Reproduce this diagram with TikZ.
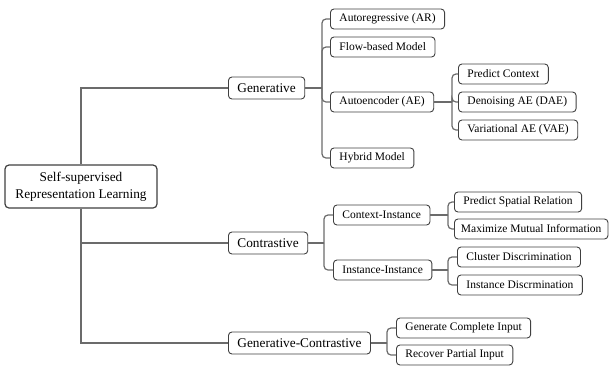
\documentclass[tikz,border=0pt]{standalone}
\usepackage{fontspec}
\setmainfont{Liberation Serif}
\usepackage{xcolor}
\usepackage{tikz}
\usetikzlibrary{positioning}

\definecolor{linegray}{HTML}{6B6B6B}
\definecolor{boxgray}{HTML}{404040}

\begin{document}
\begin{tikzpicture}[
    x=1pt, y=-1pt,
    every node/.style={font=\fontsize{11.5}{15}\selectfont},
    box/.style={draw=boxgray, line width=0.9pt, rounded corners=3.5pt, fill=white, minimum height=20pt, inner xsep=9pt, inner ysep=2pt, anchor=west},
    mainbox/.style={box, font=\fontsize{13.3}{16}\selectfont, minimum height=22pt},
    rootbox/.style={draw=boxgray, line width=1.2pt, rounded corners=4pt, fill=white, minimum width=152pt, minimum height=43pt, align=center, font=\fontsize{13.3}{17}\selectfont},
    trunk/.style={draw=linegray, line width=1.8pt},
    branch/.style={draw=linegray, line width=1.2pt, rounded corners=4pt},
]
\useasboundingbox (0,0) rectangle (611,368);

% Root
\node[rootbox] (root) at (81,186.5) {Self-supervised\\Representation Learning};

% Level 1: main families
\node[mainbox] (gen) at (228,88) {Generative};
\node[mainbox] (con) at (228,243) {Contrastive};
\node[mainbox] (gc) at (228,343) {Generative-Contrastive};

% Level 2: generative models
\node[box] (ar) at (330,19) {Autoregressive (AR)};
\node[box] (flow) at (330,47) {Flow-based Model};
\node[box] (ae) at (330,102) {Autoencoder (AE)};
\node[box] (hyb) at (330,158) {Hybrid Model};

% Level 3: autoencoders
\node[box] (pc) at (458,74) {Predict Context};
\node[box] (dae) at (458,102) {Denoising AE (DAE)};
\node[box] (vae) at (458,130) {Variational AE (VAE)};

% Level 2: contrastive
\node[box] (ci) at (333,215) {Context-Instance};
\node[box] (ii) at (333,270) {Instance-Instance};

% Level 3: contrastive
\node[box] (psr) at (454,202) {Predict Spatial Relation};
\node[box, inner xsep=6.5pt] (mmi) at (454,229) {Maximize Mutual Information};
\node[box] (cd) at (457,257) {Cluster Discrimination};
\node[box] (idis) at (457,285) {Instance Discrmination};

% Level 2: generative-contrastive
\node[box] (gci) at (396,328) {Generate Complete Input};
\node[box] (rpi) at (396,355) {Recover Partial Input};

% Bracket junctions
\coordinate (genj) at (322,88);
\coordinate (aej) at (452,102);
\coordinate (conj) at (324,243);
\coordinate (cij) at (448,215);
\coordinate (iij) at (448,270);
\coordinate (gcj) at (387,343);

% Trunk from root
\draw[trunk] (root.north) |- (gen.west);
\draw[trunk] (root.south) |- (con.west);
\draw[trunk] (root.south) |- (gc.west);

% Generative branch
\draw[branch] (gen.east) -- (genj);
\draw[branch] (genj) |- (ar.west);
\draw[branch] (genj) |- (flow.west);
\draw[branch] (genj) |- (ae.west);
\draw[branch] (genj) |- (hyb.west);

\draw[branch] (ae.east) -- (aej);
\draw[branch] (aej) |- (pc.west);
\draw[branch] (aej) |- (dae.west);
\draw[branch] (aej) |- (vae.west);

% Contrastive branch
\draw[branch] (con.east) -- (conj);
\draw[branch] (conj) |- (ci.west);
\draw[branch] (conj) |- (ii.west);

\draw[branch] (ci.east) -- (cij);
\draw[branch] (cij) |- (psr.west);
\draw[branch] (cij) |- (mmi.west);

\draw[branch] (ii.east) -- (iij);
\draw[branch] (iij) |- (cd.west);
\draw[branch] (iij) |- (idis.west);

% Generative-contrastive branch
\draw[branch] (gc.east) -- (gcj);
\draw[branch] (gcj) |- (gci.west);
\draw[branch] (gcj) |- (rpi.west);

\end{tikzpicture}
\end{document}
